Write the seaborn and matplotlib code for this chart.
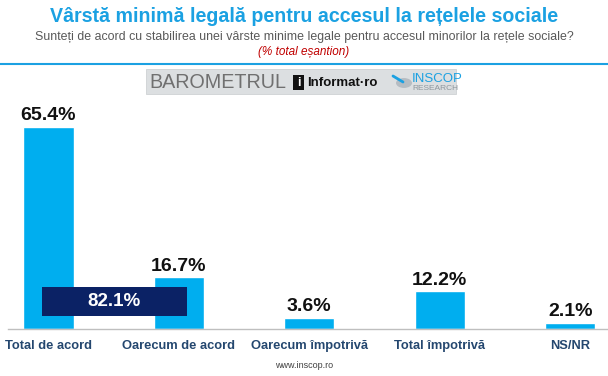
import matplotlib
matplotlib.use("Agg")
import matplotlib.pyplot as plt
import seaborn as sns
import pandas as pd
from matplotlib.patches import Rectangle, Circle

categories = ["Total de acord", "Oarecum de acord", "Oarecum împotrivă", "Total împotrivă", "NS/NR"]
values = [65.4, 16.7, 3.6, 12.2, 2.1]
combined_label = "82.1%"
combined_value = 82.1

title = "Vârstă minimă legală pentru accesul la rețelele sociale"
subtitle = "Sunteți de acord cu stabilirea unei vârste minime legale pentru accesul minorilor la rețele sociale?"
note = "(% total eșantion)"
footer = "www.inscop.ro"

sns.set_style("white")
plt.rcParams["font.family"] = ["Liberation Sans", "DejaVu Sans"]

W, H = 608, 376
fig = plt.figure(figsize=(W / 100, H / 100), dpi=100)

def fx(px):
    return px / W

def fy(py):
    return 1 - py / H

ax = fig.add_axes([fx(8), fy(329), fx(600), (329 - 100) / H])
df = pd.DataFrame({"cat": categories, "val": values})
sns.barplot(data=df, x="cat", y="val", color="#00AEEF", saturation=1, width=0.385, ax=ax)
ax.set_xlim(-0.31, 4.29)
ax.set_ylim(0, 74.1)
for c in ax.containers:
    ax.bar_label(c, labels=[f"{v:.1f}%" for v in values], fontsize=14, fontweight="bold",
                 color="#111111", padding=2)

ax.set_xlabel("")
ax.set_ylabel("")
ax.set_yticks([])
ax.set_xticks(range(len(categories)))
ax.set_xticklabels(categories, fontsize=9.3, fontweight="bold", color="#24476F")
ax.tick_params(axis="x", which="major", length=0, pad=8)
ax.set_xticks([0.5, 1.5, 2.5, 3.5], minor=True)
ax.tick_params(axis="x", which="minor", length=4, color="#A6A6A6", width=0.8)
for s in ["top", "right", "left"]:
    ax.spines[s].set_visible(False)
ax.spines["bottom"].set_color("#BFBFBF")
ax.spines["bottom"].set_linewidth(1)

# combined box "Total de acord + Oarecum de acord"
box_lo, box_hi = 4.2, 13.6
ax.add_patch(Rectangle((-0.05, box_lo), 1.11, box_hi - box_lo, facecolor="#0B2265",
                       edgecolor="none", zorder=5))
ax.text(0.505, (box_lo + box_hi) / 2, combined_label, ha="center", va="center",
        fontsize=13.5, fontweight="bold", color="white", zorder=6)

# header
fig.text(0.5, fy(16), title, ha="center", va="center", fontsize=14.1, fontweight="bold",
         color="#1BA1E2")
fig.text(0.5, fy(37), subtitle, ha="center", va="center", fontsize=8.9, color="#595959")
fig.text(0.5, fy(52), note, ha="center", va="center", fontsize=8.5, style="italic",
         color="#C00000")
fig.add_artist(plt.Line2D([0, 1], [fy(64), fy(64)], color="#1BA1E2", lw=1.5,
                          transform=fig.transFigure))

# logo block
fig.add_artist(Rectangle((fx(146), fy(94)), fx(310), (94 - 69) / H, transform=fig.transFigure,
                         facecolor="#DCDFE1", edgecolor="#C8CCCE", lw=0.5))
fig.text(fx(149), fy(82), "BAROMETRUL", ha="left", va="center", fontsize=14.2,
         color="#707070", fontweight="light")
fig.add_artist(Rectangle((fx(293), fy(90)), fx(11), 15 / H, transform=fig.transFigure,
                         facecolor="#111111", edgecolor="none"))
fig.text(fx(298.5), fy(82.5), "i", ha="center", va="center", fontsize=9, fontweight="bold",
         color="white")
fig.text(fx(307), fy(83), "Informat·ro", ha="left", va="center", fontsize=9.5,
         fontweight="bold", color="#111111")
fig.add_artist(Circle((fx(404), fy(83)), 8 / W, transform=fig.transFigure,
                      facecolor="#B5BCC2", edgecolor="none"))
fig.add_artist(plt.Line2D([fx(393), fx(403)], [fy(76), fy(82)], color="#1BA1E2", lw=2,
                          transform=fig.transFigure))
fig.text(fx(412), fy(78.5), "INSCOP", ha="left", va="center", fontsize=9.5, color="#1BA1E2")
fig.text(fx(412), fy(88.5), "RESEARCH", ha="left", va="center", fontsize=6, color="#8E979D")

fig.text(0.5, fy(365), footer, ha="center", va="center", fontsize=6.5, color="#404040")

fig.savefig("out.png", dpi=100)
